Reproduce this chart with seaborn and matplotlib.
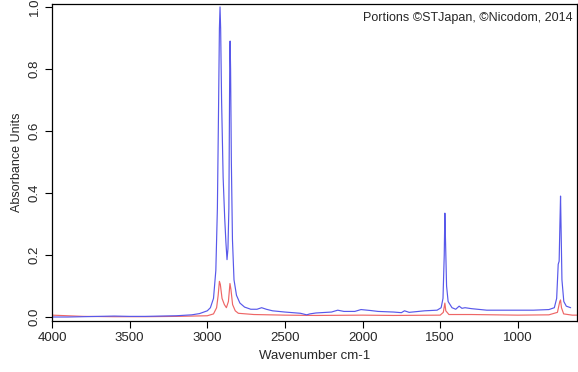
import matplotlib
matplotlib.use("Agg")
import matplotlib.pyplot as plt
import seaborn as sns
import pandas as pd

# Spectrum 1 (blue): wavenumber (cm-1) and absorbance
blue_wn = [4000, 3900, 3800, 3700, 3600, 3500, 3400, 3300, 3200, 3100, 3050, 3000,
           2980, 2960, 2945, 2935, 2928, 2922, 2918, 2914, 2908, 2898, 2888, 2880,
           2873, 2867, 2861, 2858, 2855, 2853, 2850, 2845, 2838, 2828, 2812, 2790,
           2760, 2720, 2680, 2650, 2620, 2580, 2500, 2400, 2360, 2340, 2300, 2200,
           2160, 2120, 2050, 2010, 1950, 1900, 1800, 1750, 1730, 1700, 1600, 1520,
           1494, 1482, 1474, 1470, 1466, 1459, 1449, 1424, 1400, 1378, 1360, 1340,
           1300, 1200, 1100, 1000, 900, 800, 765, 750, 740, 734, 729, 725,
           722, 716, 704, 688, 660]
blue_abs = [0.000, 0.000, 0.001, 0.002, 0.003, 0.002, 0.002, 0.003, 0.004, 0.007, 0.011, 0.020,
            0.030, 0.060, 0.150, 0.350, 0.650, 0.930, 1.000, 0.930, 0.700, 0.450, 0.320, 0.240,
            0.185, 0.220, 0.350, 0.600, 0.850, 0.890, 0.800, 0.500, 0.250, 0.120, 0.070, 0.045,
            0.032, 0.025, 0.025, 0.030, 0.025, 0.020, 0.016, 0.012, 0.007, 0.010, 0.013, 0.016,
            0.022, 0.018, 0.018, 0.024, 0.021, 0.018, 0.016, 0.014, 0.020, 0.015, 0.020, 0.022,
            0.030, 0.060, 0.200, 0.335, 0.250, 0.100, 0.050, 0.030, 0.025, 0.035, 0.028, 0.030,
            0.027, 0.022, 0.022, 0.022, 0.022, 0.024, 0.030, 0.060, 0.170, 0.180, 0.300, 0.390,
            0.300, 0.120, 0.050, 0.035, 0.030]

# Spectrum 2 (red)
red_wn = [4000, 3900, 3800, 3600, 3400, 3200, 3000, 2960, 2940, 2930, 2922, 2916,
          2905, 2890, 2877, 2864, 2854, 2848, 2837, 2820, 2800, 2700, 2500, 2300,
          2000, 1800, 1500, 1480, 1470, 1464, 1444, 1300, 1000, 800, 745, 730,
          725, 719, 705, 650, 620]
red_abs = [0.006, 0.004, 0.002, 0.001, 0.001, 0.002, 0.004, 0.010, 0.030, 0.070, 0.115, 0.105,
           0.060, 0.040, 0.030, 0.050, 0.108, 0.090, 0.040, 0.020, 0.012, 0.008, 0.006, 0.005,
           0.006, 0.005, 0.006, 0.015, 0.045, 0.020, 0.008, 0.008, 0.006, 0.007, 0.015, 0.050,
           0.055, 0.030, 0.010, 0.006, 0.006]

x_ticks = [4000, 3500, 3000, 2500, 2000, 1500, 1000]
y_ticks = [0.0, 0.2, 0.4, 0.6, 0.8, 1.0]

sns.set_style("white")
plt.rcParams["font.family"] = ["Liberation Sans", "DejaVu Sans"]

fig = plt.figure(figsize=(5.78, 3.72), dpi=100)
ax = fig.add_axes([0.090, 0.137, 0.908, 0.851])

blue_df = pd.DataFrame({"wn": blue_wn, "abs": blue_abs})
red_df = pd.DataFrame({"wn": red_wn, "abs": red_abs})

sns.lineplot(data=red_df, x="wn", y="abs", ax=ax, color="#ee6666", linewidth=0.85)
sns.lineplot(data=blue_df, x="wn", y="abs", ax=ax, color="#5858ea", linewidth=0.85)

ax.set_xlim(4000, 620)
ax.set_ylim(-0.013, 1.008)
ax.set_xticks(x_ticks)
ax.set_xticklabels([str(t) for t in x_ticks], fontsize=9.5)
ax.set_yticks(y_ticks)
ax.set_yticklabels([f"{t:.1f}" for t in y_ticks], fontsize=9.5, rotation=90, va="center")
ax.tick_params(direction="out", length=5, width=0.8, color="black",
               bottom=True, left=True, pad=3)
for s in ax.spines.values():
    s.set_color("black")
    s.set_linewidth(0.9)

ax.set_xlabel("Wavenumber cm-1", fontsize=9.5, labelpad=4)
ax.set_ylabel("Absorbance Units", fontsize=9, labelpad=4)
ax.text(0.992, 0.975, "Portions \u00a9STJapan, \u00a9Nicodom, 2014",
        transform=ax.transAxes, ha="right", va="top", fontsize=9)

fig.savefig("out.png", dpi=100)
